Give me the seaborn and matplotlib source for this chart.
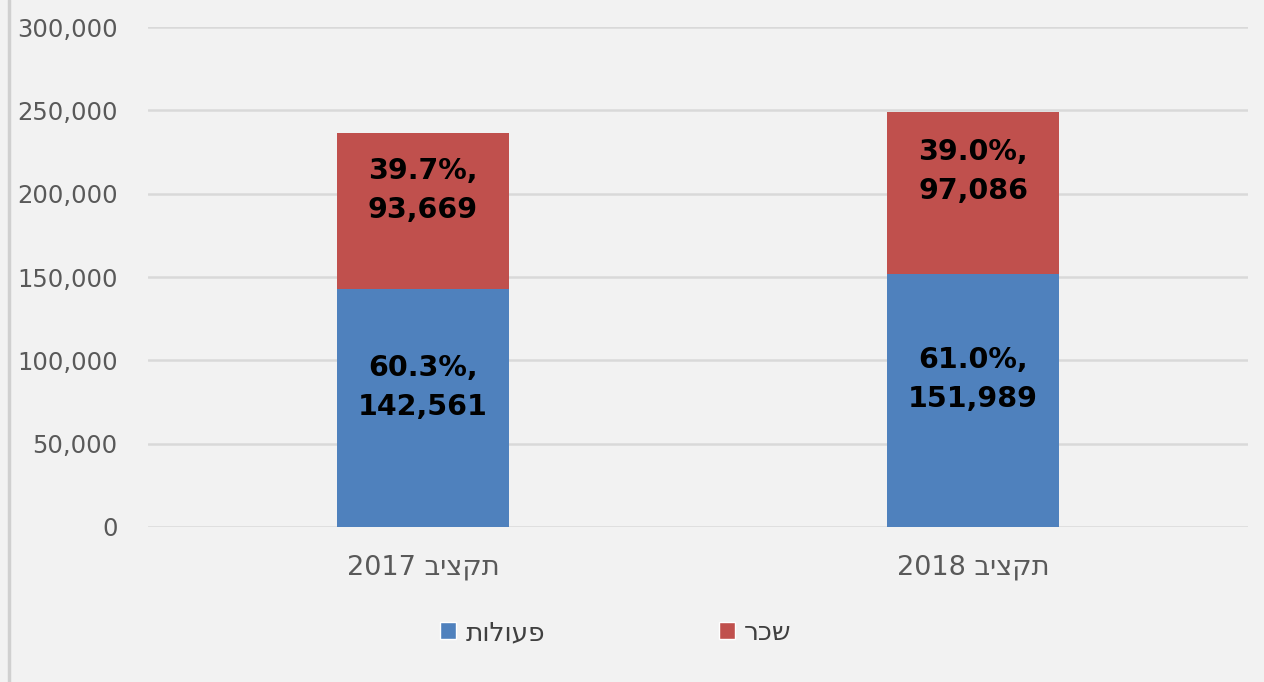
import matplotlib.pyplot as plt
import matplotlib.ticker as mticker
from matplotlib.lines import Line2D
from matplotlib.patches import Patch
import pandas as pd
import seaborn as sns

# Hebrew labels are stored in visual (left-to-right) order, since matplotlib has no bidi
budgets = ['2017 ביצקת', '2018 ביצקת']
operations = [142561, 151989]
salaries = [93669, 97086]
operations_label = 'תולועפ'
salaries_label = 'רכש'
yticks = [0, 50000, 100000, 150000, 200000, 250000, 300000]

BLUE = '#4f81bd'
RED = '#c0504d'
BG = '#f2f2f2'

df = pd.DataFrame({'budget': budgets, 'operations': operations, 'salaries': salaries})
df['total'] = df.operations + df.salaries

sns.set_theme(style='white')
plt.rcParams['font.family'] = ['DejaVu Sans']

fig = plt.figure(figsize=(12.64, 6.82), dpi=100, facecolor=BG)
ax = fig.add_axes([148 / 1264, 1 - 527 / 682, 1100 / 1264, 500 / 682])
ax.set_facecolor(BG)

# stacked look: totals in red, operations in blue drawn over them
sns.barplot(data=df, x='budget', y='total', color=RED, width=0.313,
            saturation=1, ax=ax, zorder=3)
sns.barplot(data=df, x='budget', y='operations', color=BLUE, width=0.313,
            saturation=1, ax=ax, zorder=3)
for p in ax.patches:
    p.set_edgecolor('none')


def label(x, y, share, value):
    ax.annotate(f'{share:.1%},\n{value:,}', (x, y), xytext=(0, 15),
                textcoords='offset points', ha='center', va='center',
                fontsize=20.5, fontweight='bold', color='black',
                linespacing=1.5, zorder=4)


for i, row in df.iterrows():
    label(i, row.operations / 2, row.operations / row.total, row.operations)
    label(i, row.operations + row.salaries / 2, row.salaries / row.total, row.salaries)

ax.set_ylim(0, 300000)
ax.set_xlim(-0.5, 1.5)
ax.set_yticks(yticks)
ax.yaxis.set_major_formatter(mticker.StrMethodFormatter('{x:,.0f}'))
ax.grid(axis='y', color='#d9d9d9', linewidth=1.8, zorder=0)
ax.grid(axis='x', visible=False)
ax.set_axisbelow(True)
for s in ax.spines.values():
    s.set_visible(False)
ax.tick_params(axis='y', length=0, pad=22, labelsize=17.5, labelcolor='#595959')
ax.tick_params(axis='x', length=0, pad=20, labelsize=19.5, labelcolor='#595959')
ax.set_xlabel('')
ax.set_ylabel('')

handles = [Patch(facecolor=BLUE, label=operations_label),
           Patch(facecolor=RED, label=salaries_label)]
fig.legend(handles=handles, loc='center', bbox_to_anchor=(616 / 1264, 1 - 633 / 682),
           ncol=2, frameon=False, fontsize=19, handlelength=0.6, handleheight=0.6,
           columnspacing=6.6, handletextpad=0.35, labelcolor='#404040')

fig.add_artist(Line2D([9 / 1264, 9 / 1264], [0, 1], color='#d0d0d0', linewidth=2.5))

fig.savefig('out.png', dpi=100, facecolor=BG)
